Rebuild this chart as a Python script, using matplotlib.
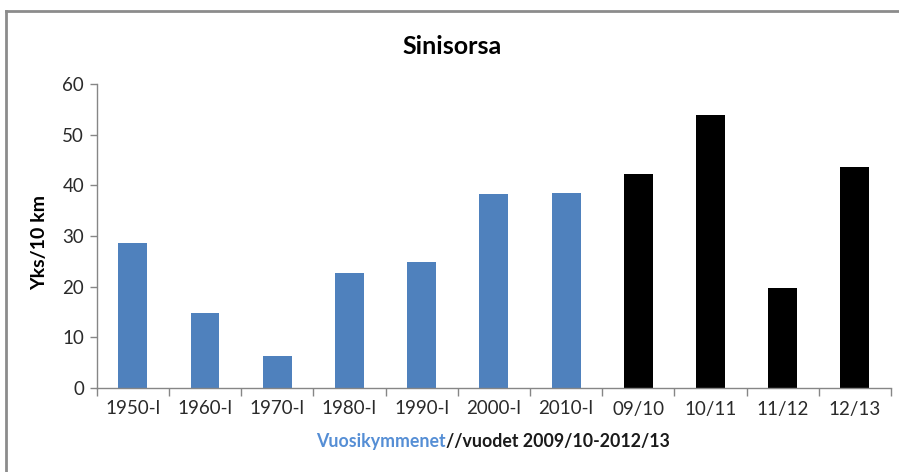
import matplotlib
matplotlib.use("Agg")
import matplotlib.pyplot as plt
from matplotlib.lines import Line2D

categories = ["1950-l", "1960-l", "1970-l", "1980-l", "1990-l", "2000-l", "2010-l",
              "09/10", "10/11", "11/12", "12/13"]
values = [28.7, 14.9, 6.3, 22.6, 24.9, 38.2, 38.4, 42.2, 53.8, 19.7, 43.7]
bar_colors = ["#4F81BD"] * 7 + ["#000000"] * 4
yticks = [0, 10, 20, 30, 40, 50, 60]
title = "Sinisorsa"
ylabel = "Yks/10 km"
xlabel_blue = "Vuosikymmenet"
xlabel_black = "//vuodet 2009/10-2012/13"

plt.rcParams['font.family'] = ['Lato', 'DejaVu Sans']
W, H = 899, 472
fig = plt.figure(figsize=(W / 100, H / 100), dpi=100)
ax = fig.add_axes([96.7 / W, 1 - 388 / H, (891 - 96.7) / W, (388 - 84) / H])

x = list(range(len(categories)))
ax.bar(x, values, width=0.4, color=bar_colors, zorder=2)
ax.set_xlim(-0.5, len(categories) - 0.5)
ax.set_ylim(0, 60)
ax.set_yticks(yticks)
ax.set_yticklabels([str(v) for v in yticks], fontsize=13.5, color="#2a2a2a")
ax.set_xticks(x)
ax.set_xticklabels(categories, fontsize=13.5, color="#2a2a2a")
ax.tick_params(axis='x', length=0, pad=9)
ax.tick_params(axis='y', length=5, color="#868686", width=1, pad=4)
ax.set_xticks([i - 0.5 for i in range(len(categories) + 1)], minor=True)
ax.tick_params(axis='x', which='minor', length=6, color="#868686", width=1)

for s in ["top", "right"]:
    ax.spines[s].set_visible(False)
for s in ["left", "bottom"]:
    ax.spines[s].set_color("#868686")
    ax.spines[s].set_linewidth(1)

fig.text(452 / W, 1 - 46 / H, title, fontsize=18, fontweight='bold', ha='center', va='center')
fig.text(40 / W, 1 - 242 / H, ylabel, fontsize=14, fontweight='bold', rotation=90,
         ha='center', va='center')

# two-coloured x label
fig.canvas.draw()
renderer = fig.canvas.get_renderer()
t1 = fig.text(0, 1 - 441 / H, xlabel_blue, fontsize=12.8, fontweight='bold', color="#558ED5",
              ha='left', va='center')
t2 = fig.text(0, 1 - 441 / H, xlabel_black, fontsize=12.8, fontweight='bold', color="#1a1a1a",
              ha='left', va='center')
w1 = t1.get_window_extent(renderer).width
w2 = t2.get_window_extent(renderer).width
start = 493 - (w1 + w2) / 2
t1.set_x(start / W)
t2.set_x((start + w1) / W)

# chart border (top and left visible)
fig.add_artist(Line2D([6 / W, 1], [1 - 11 / H, 1 - 11 / H], color="#8c8c8c", lw=2, transform=fig.transFigure))
fig.add_artist(Line2D([6 / W, 6 / W], [0, 1 - 11 / H], color="#8c8c8c", lw=2, transform=fig.transFigure))

fig.savefig("out.png", dpi=100)
